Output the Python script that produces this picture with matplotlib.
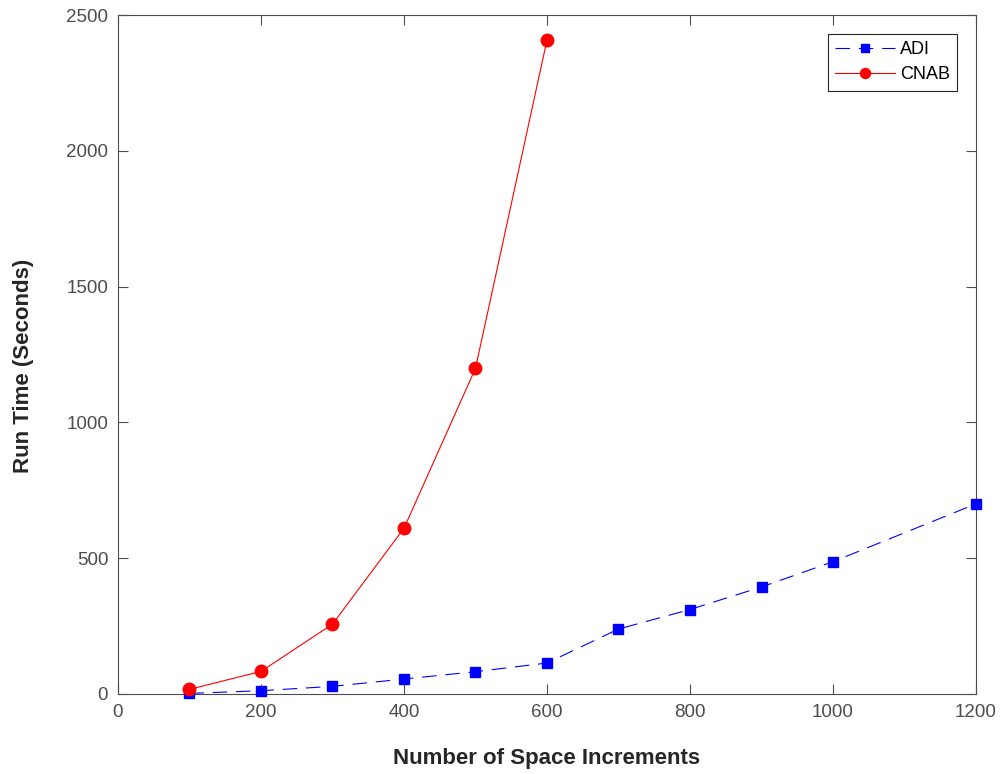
import numpy as np
import matplotlib
matplotlib.use('Agg')
import matplotlib.pyplot as plt

plt.rcParams['font.family'] = ['Liberation Sans', 'DejaVu Sans']

# data
adi_n = [100, 200, 300, 400, 500, 600, 700, 800, 900, 1000, 1200]
adi_t = [2, 12, 28, 55, 82, 114, 239, 311, 394, 487, 700]
cnab_n = [100, 200, 300, 400, 500, 600]
cnab_t = [17, 83, 257, 610, 1199, 2408]

x_ticks = [0, 200, 400, 600, 800, 1000, 1200]
y_ticks = [0, 500, 1000, 1500, 2000, 2500]

fig = plt.figure(figsize=(10.03, 7.74), dpi=100)
ax = fig.add_axes([0.1176, 0.1034, 0.8555, 0.8772])

grey = '#4d4d4d'
ax.plot(adi_n, adi_t, color='blue', marker='s', markersize=7.5, lw=0.8,
        dashes=(13, 8), label='ADI', clip_on=False, zorder=3)
ax.plot(cnab_n, cnab_t, color='red', marker='o', markersize=9, lw=0.8,
        label='CNAB', clip_on=False, zorder=3)

ax.set_xlim(0, 1200)
ax.set_ylim(0, 2500)
ax.set_xticks(x_ticks)
ax.set_yticks(y_ticks)
ax.tick_params(direction='in', length=7, width=0.8, colors=grey,
               labelsize=13.5, top=True, right=True, pad=7)
for s in ax.spines.values():
    s.set_color(grey)
    s.set_linewidth(0.8)

ax.set_xlabel('Number of Space Increments', fontsize=16, fontweight='bold',
              color='#262626', labelpad=20)
ax.set_ylabel('Run Time (Seconds)', fontsize=16, fontweight='bold',
              color='#262626')
ax.yaxis.set_label_coords(-0.098, 0.483)

leg = ax.legend(loc='upper right', bbox_to_anchor=(0.978, 0.972),
                borderaxespad=0, fontsize=13, fancybox=False, framealpha=1,
                edgecolor='#262626', handlelength=3.3, borderpad=0.4,
                labelspacing=0.45, handletextpad=0.3, markerscale=0.8)
leg.get_frame().set_linewidth(0.8)

fig.savefig('out.png', dpi=100)
